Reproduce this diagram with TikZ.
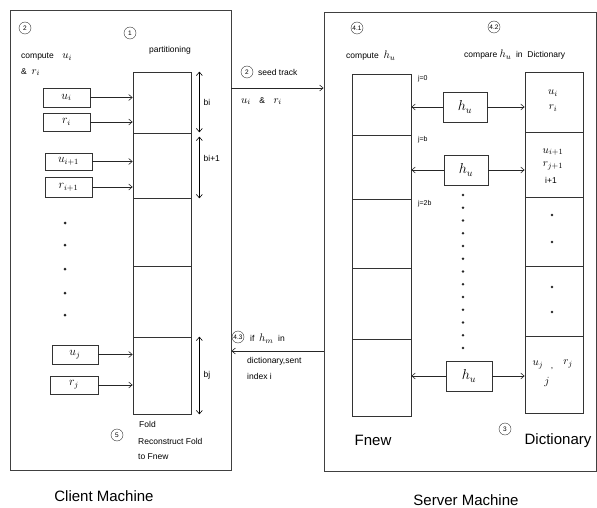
\documentclass[tikz,border=0pt]{standalone}
\usepackage{fontspec}
\setmainfont{Liberation Sans}
\usetikzlibrary{arrows.meta}
\newcommand{\mathlbl}[1]{{\fontsize{11}{12}\selectfont$#1$}}
\begin{document}
\begin{tikzpicture}[x=1pt,y=-1pt,>={Straight Barb[length=3.5pt,width=6pt]},
  machine/.style={draw=black!75,line width=0.9pt,inner sep=0pt},
  cell/.style={draw=black!80,line width=0.7pt,inner sep=0pt,minimum width=58pt},
  itembox/.style={draw=black!80,line width=0.7pt,inner sep=0pt,font=\large},
  stepno/.style={draw=black!80,circle,inner sep=0pt,minimum size=12pt,font=\fontsize{6.5}{7}\selectfont},
  lbl/.style={inner sep=1pt,font=\fontsize{8.5}{10}\selectfont},
  jlbl/.style={inner sep=1.5pt,font=\fontsize{7}{8}\selectfont},
  big/.style={inner sep=1pt,font=\fontsize{15}{17}\selectfont},
  arr/.style={->,line width=0.6pt,black!85}]
  \useasboundingbox (0,0) rectangle (597,508);

  \node[machine,minimum width=221pt,minimum height=460pt] (client) at (120.5,240) {};
  \node[machine,minimum width=272pt,minimum height=459pt] (server) at (460,241.5) {};

  \foreach \t/\b [count=\k] in {72/133,133/198,198/266,266/337,337/414}
    \node[cell,minimum height={(\b-\t)*1pt}] (part\k) at (162,{(\t+\b)/2}) {};
  \foreach \t/\b [count=\k] in {74/135,135/199,199/268,268/339,339/416}
    \node[cell,minimum width=59pt,minimum height={(\b-\t)*1pt}] (fnew\k) at (381.5,{(\t+\b)/2}) {};
  \foreach \t/\b [count=\k] in {72/132,132/197,197/266,266/336,336/413}
    \node[cell,minimum height={(\b-\t)*1pt}] (dict\k) at (554,{(\t+\b)/2}) {};

  \node[itembox,minimum width=47pt,minimum height=19pt] (ui) at (66.5,97.5) {$u_i$};
  \node[itembox,minimum width=47pt,minimum height=18pt] (ri) at (66.5,122) {$r_i$};
  \node[itembox,minimum width=47pt,minimum height=17pt] (uii) at (68.5,161.5) {$u_{i+1}$};
  \node[itembox,minimum width=47pt,minimum height=20pt] (rii) at (68.5,187) {$r_{i+1}$};
  \node[itembox,minimum width=46pt,minimum height=19pt] (uj) at (75,354.5) {$u_j$};
  \node[itembox,minimum width=48pt,minimum height=18pt] (rj) at (74,385) {$r_j$};
  \draw[arr] (ui) -- (ui -| part1.west);
  \draw[arr] (ri) -- (ri -| part1.west);
  \draw[arr] (uii) -- (uii -| part2.west);
  \draw[arr] (rii) -- (rii -| part2.west);
  \draw[arr] (uj) -- (uj -| part5.west);
  \draw[arr] (rj) -- (rj -| part5.west);
  \foreach \y in {223,245,269,293,315}
    \fill[black!85] (65,\y) circle (1.5pt);

  \draw[<->,line width=0.6pt] ([xshift=8pt]part1.north east) -- ([xshift=8pt,yshift=1pt]part1.south east)
    node[midway,right=3pt,lbl] (bi) {bi};
  \draw[<->,line width=0.6pt] ([xshift=8pt,yshift=-4pt]part2.north east) -- ([xshift=8pt]part2.south east)
    node[pos=0.35,right=3pt,lbl] (bii) {bi+1};
  \draw[<->,line width=0.6pt] ([xshift=8pt]part5.north east) -- ([xshift=8pt]part5.south east)
    node[midway,right=3pt,lbl] (bj) {bj};

  \node[stepno] (s2) at (25,28) {2};
  \node[lbl,anchor=west] (compu) at (20,57) {compute\quad \mathlbl{u_i}};
  \node[lbl,anchor=west] (compr) at (20,72) {\&\ \ \mathlbl{r_i}};
  \node[stepno] (s1) at (130,33) {1};
  \node[lbl] (parttxt) at (170,50) {partitioning};
  \node[stepno] (s5) at (117,435) {5};
  \node[lbl,anchor=west] (fold) at (138,424) {Fold};
  \node[lbl,anchor=west] (recon) at (137,441) {Reconstruct Fold};
  \node[lbl,anchor=west] (tofnew) at (137,457) {to Fnew};

  \draw[arr] (client.east |- 0,88) -- (server.west |- 0,88);
  \node[stepno] (s2b) at (247,72) {2};
  \node[lbl,anchor=west] (seedtxt) at (257,72) {seed track};
  \node[lbl,anchor=west] (seedval) at (240,101) {\mathlbl{u_i}\quad\&\quad\mathlbl{r_i}};
  \draw[arr] (server.west |- 0,351) -- (client.east |- 0,351);
  \node[stepno] (s43) at (238,337) {4.3};
  \node[lbl,anchor=west] (iftxt) at (249,339) {if\ \ \mathlbl{h_m}\ \ in};
  \node[lbl,anchor=west] (senttxt) at (246,361) {dictionary,sent};
  \node[lbl,anchor=west] (idxtxt) at (246,376) {index i};

  \node[stepno] (s41) at (357,28) {4.1};
  \node[lbl,anchor=west] (comph) at (345,56) {compute\ \ \mathlbl{h_u}};
  \node[stepno] (s42) at (494,27) {4.2};
  \node[lbl,anchor=west] (cmph) at (463,55) {compare \mathlbl{h_u}\ \ in\ \ Dictionary};

  \node[jlbl,anchor=north west] (j0) at ([xshift=5pt]fnew1.north east) {j=0};
  \node[jlbl,anchor=north west] (jb) at ([xshift=5pt]fnew2.north east) {j=b};
  \node[jlbl,anchor=north west] (j2b) at ([xshift=5pt]fnew3.north east) {j=2b};

  \node[itembox,font=\Large,minimum width=44pt,minimum height=30pt] (h1) at (465,107) {$h_u$};
  \node[itembox,font=\Large,minimum width=44pt,minimum height=30pt] (h2) at (466,170) {$h_u$};
  \node[itembox,font=\Large,minimum width=46pt,minimum height=30pt] (h3) at (469,376) {$h_u$};
  \draw[arr] (h1.west) -- (h1.west -| fnew1.east);
  \draw[arr] (h1.east) -- (h1.east -| dict1.west);
  \draw[arr] (h2.west) -- (h2.west -| fnew2.east);
  \draw[arr] (h2.east) -- (h2.east -| dict2.west);
  \draw[arr] (h3.west) -- (h3.west -| fnew5.east);
  \draw[arr] (h3.east) -- (h3.east -| dict5.west);
  \foreach \k in {0,...,12}
    \fill[black!85] (463,{195+12.75*\k}) circle (1.3pt);

  \node[lbl] (du1) at (553,93) {\mathlbl{u_i}};
  \node[lbl] (dr1) at (553,108) {\mathlbl{r_i}};
  \node[lbl] (du2) at (553,152) {\mathlbl{u_{i+1}}};
  \node[lbl] (dr2) at (553,166) {\mathlbl{r_{j+1}}};
  \node[lbl] (di2) at (551,180) {i+1};
  \foreach \y in {215,242,287,312}
    \fill[black!85] (552,\y) circle (1.3pt);
  \node[lbl] (duj) at (538,365) {\mathlbl{u_j}};
  \node[lbl] (dcom) at (552,369) {,};
  \node[lbl] (drj) at (568,364) {\mathlbl{r_j}};
  \node[lbl] (dj) at (547,382) {\mathlbl{j}};

  \node[stepno] (s3) at (505,429) {3};
  \node[big] (fnewtxt) at (373,440) {Fnew};
  \node[big] (dicttitle) at (558,441) {Dictionary};
  \node[big] (clientname) at (104,496) {Client Machine};
  \node[big] (servername) at (466,500) {Server Machine};
\end{tikzpicture}
\end{document}
